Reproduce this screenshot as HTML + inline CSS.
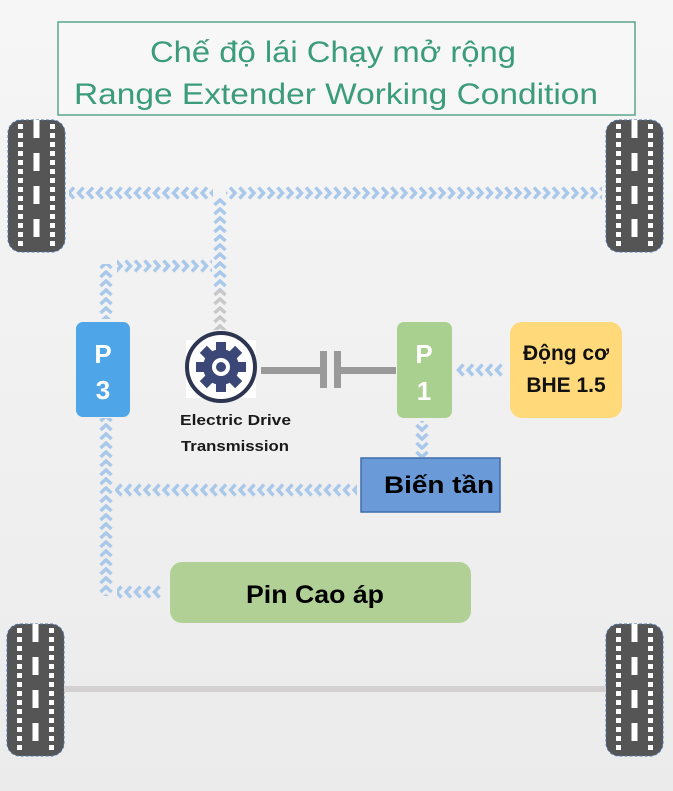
<!DOCTYPE html>
<html><head><meta charset="utf-8"><style>
body{margin:0;background:#f3f3f3;}
svg{display:block}
text{font-family:"Liberation Sans","DejaVu Sans",sans-serif;}
</style></head><body>
<svg width="673" height="791" viewBox="0 0 673 791" xmlns="http://www.w3.org/2000/svg">
<defs>
<linearGradient id="bg" x1="0" y1="0" x2="0" y2="1"><stop offset="0" stop-color="#f6f6f6"/><stop offset="1" stop-color="#ebebeb"/></linearGradient>
<pattern id="cl" patternUnits="userSpaceOnUse" width="9.5" height="14" x="0" y="186"><path d="M7.5,1.5 L2.5,7 L7.5,12.5" fill="none" stroke="#a9c8ea" stroke-width="3.5"/></pattern>
<pattern id="cr" patternUnits="userSpaceOnUse" width="9.5" height="14" x="0" y="186"><path d="M2,1.5 L7,7 L2,12.5" fill="none" stroke="#a9c8ea" stroke-width="3.5"/></pattern>
<pattern id="cr2" patternUnits="userSpaceOnUse" width="9.5" height="14" x="0" y="259"><path d="M2,1.5 L7,7 L2,12.5" fill="none" stroke="#a9c8ea" stroke-width="3.5"/></pattern>
<pattern id="cl3" patternUnits="userSpaceOnUse" width="9.5" height="14" x="0" y="363"><path d="M7.5,1.5 L2.5,7 L7.5,12.5" fill="none" stroke="#a9c8ea" stroke-width="3.5"/></pattern>
<pattern id="cl4" patternUnits="userSpaceOnUse" width="9.5" height="14" x="0" y="483"><path d="M7.5,1.5 L2.5,7 L7.5,12.5" fill="none" stroke="#a9c8ea" stroke-width="3.5"/></pattern>
<pattern id="cl5" patternUnits="userSpaceOnUse" width="9.5" height="14" x="0" y="585"><path d="M7.5,1.5 L2.5,7 L7.5,12.5" fill="none" stroke="#a9c8ea" stroke-width="3.5"/></pattern>
<pattern id="cu" patternUnits="userSpaceOnUse" width="14" height="9" x="213" y="0"><path d="M1.5,7 L7,2 L12.5,7" fill="none" stroke="#a9c8ea" stroke-width="3.5"/></pattern>
<pattern id="cug" patternUnits="userSpaceOnUse" width="14" height="9" x="213" y="0"><path d="M1.5,7 L7,2 L12.5,7" fill="none" stroke="#c8c8c8" stroke-width="3.5"/></pattern>
<pattern id="cu3" patternUnits="userSpaceOnUse" width="14" height="9" x="99" y="0"><path d="M1.5,7 L7,2 L12.5,7" fill="none" stroke="#a9c8ea" stroke-width="3.5"/></pattern>
<pattern id="cd" patternUnits="userSpaceOnUse" width="14" height="9" x="415" y="0"><path d="M1.5,2 L7,7 L12.5,2" fill="none" stroke="#a9c8ea" stroke-width="3.5"/></pattern>
<g id="tire">
<rect x="0" y="0" width="57" height="132" rx="13" fill="#555" stroke="#4a74a8" stroke-width="1" stroke-dasharray="3,2"/>
<g fill="#fff">
<rect x="25.5" y="0" width="6" height="18"/><rect x="25.5" y="33" width="6" height="18"/><rect x="25.5" y="66" width="6" height="18"/><rect x="25.5" y="99" width="6" height="18"/>
</g>
<g fill="#fff">
<rect x="10" y="4" width="5" height="5"/><rect x="10" y="13" width="5" height="5"/><rect x="10" y="22" width="5" height="5"/><rect x="10" y="31" width="5" height="5"/><rect x="10" y="40" width="5" height="5"/><rect x="10" y="49" width="5" height="5"/><rect x="10" y="58" width="5" height="5"/><rect x="10" y="67" width="5" height="5"/><rect x="10" y="76" width="5" height="5"/><rect x="10" y="85" width="5" height="5"/><rect x="10" y="94" width="5" height="5"/><rect x="10" y="103" width="5" height="5"/><rect x="10" y="112" width="5" height="5"/><rect x="10" y="121" width="5" height="5"/>
<rect x="42" y="4" width="5" height="5"/><rect x="42" y="13" width="5" height="5"/><rect x="42" y="22" width="5" height="5"/><rect x="42" y="31" width="5" height="5"/><rect x="42" y="40" width="5" height="5"/><rect x="42" y="49" width="5" height="5"/><rect x="42" y="58" width="5" height="5"/><rect x="42" y="67" width="5" height="5"/><rect x="42" y="76" width="5" height="5"/><rect x="42" y="85" width="5" height="5"/><rect x="42" y="94" width="5" height="5"/><rect x="42" y="103" width="5" height="5"/><rect x="42" y="112" width="5" height="5"/><rect x="42" y="121" width="5" height="5"/>
</g>
</g>
</defs>
<rect width="673" height="791" fill="url(#bg)"/>
<!-- title -->
<rect x="58" y="22" width="577" height="93" fill="#f7f7f7" stroke="#5aa58a" stroke-width="1.5"/>
<text x="150" y="62" font-size="30" fill="#3b9c7c" textLength="366" lengthAdjust="spacingAndGlyphs">Chế độ lái Chạy mở rộng</text>
<text x="74" y="104" font-size="30" fill="#3b9c7c" textLength="524" lengthAdjust="spacingAndGlyphs">Range Extender Working Condition</text>
<!-- tires -->
<use href="#tire" x="8" y="120"/>
<use href="#tire" x="606" y="120"/>
<use href="#tire" x="7" y="624"/>
<use href="#tire" x="606" y="624"/>
<!-- axle -->
<rect x="64" y="686" width="542" height="6" fill="#d2d0d0"/>
<!-- arrows -->
<rect x="69" y="186" width="144" height="14" fill="url(#cl)"/>
<rect x="226" y="186" width="376" height="14" fill="url(#cr)"/>
<rect x="213" y="198" width="14" height="95" fill="url(#cu)"/>
<rect x="213" y="290" width="14" height="40" fill="url(#cug)"/>
<rect x="117" y="259" width="95" height="14" fill="url(#cr2)"/>
<rect x="99" y="264" width="14" height="55" fill="url(#cu3)"/>
<rect x="99" y="418" width="14" height="178" fill="url(#cu3)"/>
<rect x="456" y="363" width="48" height="14" fill="url(#cl3)"/>
<rect x="415" y="421" width="14" height="36" fill="url(#cd)"/>
<rect x="115" y="483" width="242" height="14" fill="url(#cl4)"/>
<rect x="117" y="585" width="44" height="14" fill="url(#cl5)"/>
<!-- P3 -->
<rect x="76" y="322" width="54" height="95" rx="7" fill="#4ea6e8"/>
<text x="103" y="363" font-size="26" font-weight="bold" fill="#fff" text-anchor="middle">P</text>
<text x="103" y="399" font-size="26" font-weight="bold" fill="#fff" text-anchor="middle">3</text>
<!-- gear -->
<rect x="186" y="340" width="70" height="58" fill="#fff"/>
<circle cx="221" cy="367" r="34" fill="#fff" stroke="#2e3550" stroke-width="4"/>
<g fill="#3b4877" transform="translate(221,367)">
<circle r="18"/>
<rect x="-5" y="-25" width="10" height="50"/>
<rect x="-5" y="-25" width="10" height="50" transform="rotate(45)"/>
<rect x="-5" y="-25" width="10" height="50" transform="rotate(90)"/>
<rect x="-5" y="-25" width="10" height="50" transform="rotate(135)"/>
<circle r="9" fill="#fff"/>
<circle r="5"/>
</g>
<text x="180" y="425" font-size="15" font-weight="bold" fill="#1a1a1a" textLength="111" lengthAdjust="spacingAndGlyphs">Electric Drive</text>
<text x="181" y="451" font-size="15" font-weight="bold" fill="#1a1a1a" textLength="108" lengthAdjust="spacingAndGlyphs">Transmission</text>
<!-- shaft -->
<rect x="261" y="367" width="60" height="7" fill="#9a9a9a"/>
<rect x="320" y="351" width="7" height="37" fill="#9a9a9a"/>
<rect x="334" y="351" width="7" height="37" fill="#9a9a9a"/>
<rect x="340" y="367" width="56" height="7" fill="#9a9a9a"/>
<!-- P1 -->
<rect x="397" y="322" width="55" height="96" rx="7" fill="#a9d08e"/>
<text x="424" y="363" font-size="26" font-weight="bold" fill="#fff" text-anchor="middle">P</text>
<text x="424" y="400" font-size="26" font-weight="bold" fill="#fff" text-anchor="middle">1</text>
<!-- engine -->
<rect x="510" y="322" width="112" height="96" rx="12" fill="#ffd97a"/>
<text x="566" y="360" font-size="21" font-weight="bold" fill="#111" text-anchor="middle">Động cơ</text>
<text x="566" y="392" font-size="21" font-weight="bold" fill="#111" text-anchor="middle">BHE 1.5</text>
<!-- inverter -->
<rect x="361" y="458" width="139" height="54" fill="#6a9bd8" stroke="#3f6ca8" stroke-width="1.5"/>
<text x="384" y="493" font-size="24" font-weight="bold" fill="#000" textLength="110" lengthAdjust="spacingAndGlyphs">Biến tần</text>
<!-- battery -->
<rect x="170" y="562" width="301" height="61" rx="12" fill="#b1d095"/>
<text x="246" y="603" font-size="25" font-weight="bold" fill="#000" textLength="138" lengthAdjust="spacingAndGlyphs">Pin Cao áp</text>
</svg>
</body></html>
